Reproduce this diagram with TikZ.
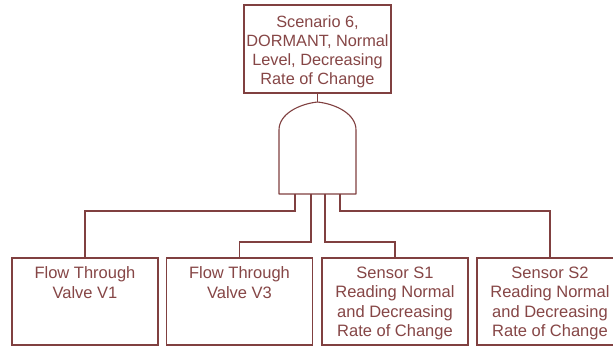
\documentclass[tikz,border=0pt]{standalone}
\usepackage{fontspec}
\setmainfont{Liberation Sans}
\definecolor{ftline}{RGB}{128,64,64}
\definecolor{fttext}{RGB}{134,70,70}
\begin{document}
\begin{tikzpicture}[x=1pt,y=-1pt,
  line width=1.1pt,
  box/.style={draw=ftline, rectangle, inner sep=0pt, outer sep=0pt,
    minimum width=146pt, minimum height=87pt, anchor=north west},
  topbox/.style={box, minimum width=147pt, minimum height=88pt},
  lbl/.style={text=fttext, inner sep=0pt, align=center, anchor=north,
    font=\fontsize{16.5}{19.6}\selectfont},
  toplbl/.style={lbl, font=\fontsize{16.3}{18.9}\selectfont},
  wire/.style={draw=ftline}]
\useasboundingbox (0,0) rectangle (613,347);
\fill[white] (0,0) rectangle (613,347);
\clip (0,0) rectangle (613,347);

% top event
\node[topbox] (top) at (244,5) {};
\node[toplbl] (toptxt) at ([yshift=-10pt]top.north)
  {Scenario 6,\\DORMANT, Normal\\Level, Decreasing\\Rate of Change};

% basic events
\node[box] (b1) at (12,258) {};
\node[box] (b2) at (166.5,258) {};
\node[box] (b3) at (322,258) {};
\node[box] (b4) at (477,258) {};
\node[lbl] (t1) at ([yshift=-8pt]b1.north) {Flow Through\\Valve V1};
\node[lbl] (t2) at ([yshift=-8pt]b2.north) {Flow Through\\Valve V3};
\node[lbl] (t3) at ([yshift=-8pt]b3.north)
  {Sensor S1\\Reading Normal\\and Decreasing\\Rate of Change};
\node[lbl] (t4) at ([yshift=-8pt]b4.north)
  {Sensor S2\\Reading Normal\\and Decreasing\\Rate of Change};

% AND gate
\coordinate (apex) at (317.5,102);
\draw[ftline, line join=round] (279,194) -- (279,130)
  .. controls (279,114) and (299,104) .. (apex)
  .. controls (336,104) and (356,114) .. (356,130)
  -- (356,194) -- cycle;

% gate inputs and wire bends
\coordinate (g1) at (295,194);
\coordinate (g2) at (311,194);
\coordinate (g3) at (325,194);
\coordinate (g4) at (340,194);
\coordinate (k1) at (295,211);
\coordinate (k2) at (311,242);
\coordinate (k3) at (325,242);
\coordinate (k4) at (340,211);

% connectors
\draw[wire] (top.south) -- (apex);
\draw[wire] (g1) -- (k1) -| (b1.north);
\draw[wire] (g2) -- (k2) -| (b2.north);
\draw[wire] (g3) -- (k3) -| (b3.north);
\draw[wire] (g4) -- (k4) -| (b4.north);
\end{tikzpicture}
\end{document}
